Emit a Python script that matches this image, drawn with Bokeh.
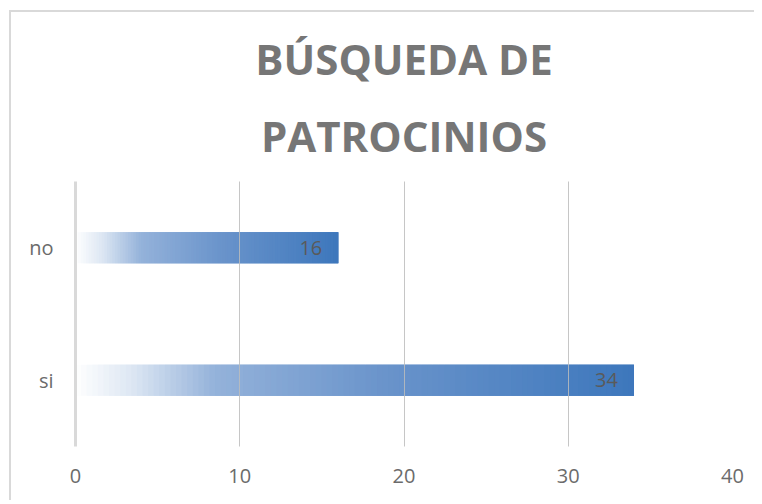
import numpy as np
from bokeh.plotting import figure
from bokeh.core.properties import value
from bokeh.models import FactorRange, Range1d, Title, ColumnDataSource, LabelSet, FixedTicker
from bokeh.embed import file_html
from bokeh.resources import INLINE

# ---- data ----
categories = ["si", "no"]
values = [34, 16]
x_ticks = [0, 10, 20, 30, 40]
title_lines = ["BÚSQUEDA DE", "PATROCINIOS"]

# ---- style ----
FONT = "Open Sans"
GRAD_STOPS = [(0.0, "#ffffff"), (0.1, "#dde7f3"), (0.25, "#94b2da"),
              (0.55, "#6a94cb"), (1.0, "#3d77bc")]
N_SLICES = 100


def hex2rgb(h):
    h = h.lstrip("#")
    return np.array([int(h[i:i + 2], 16) for i in (0, 2, 4)], dtype=float)


def grad_color(t):
    for (t0, c0), (t1, c1) in zip(GRAD_STOPS[:-1], GRAD_STOPS[1:]):
        if t <= t1:
            f = (t - t0) / (t1 - t0) if t1 > t0 else 0
            c = hex2rgb(c0) * (1 - f) + hex2rgb(c1) * f
            return "#%02x%02x%02x" % tuple(int(round(v)) for v in c)
    return GRAD_STOPS[-1][1]


p = figure(width=745, height=490, title=title_lines[0],
           y_range=FactorRange(factors=categories, range_padding=0),
           x_range=Range1d(0, 40),
           output_backend="svg", toolbar_location=None,
           min_border_left=64, min_border_right=24,
           min_border_top=169, min_border_bottom=56)
p.styles = {"margin-left": "9px", "margin-top": "10px",
            "border-top": "2px solid #d9d9d9", "border-left": "2px solid #d9d9d9"}
p.outline_line_color = None
p.background_fill_color = "white"
p.border_fill_color = "white"

# two-line title: second line nearest the frame, default title outermost
p.add_layout(Title(text=title_lines[1], align="center", text_font=FONT,
                   text_font_size="42px", text_font_style="bold",
                   text_color="#767676", standoff=36), "above")
p.title.align = "center"
p.title.text_font = FONT
p.title.text_font_size = "42px"
p.title.text_font_style = "bold"
p.title.text_color = "#767676"
p.title.standoff = 0

# gradient bars built from data values
ys, lefts, rights, colors = [], [], [], []
for cat, v in zip(categories, values):
    for i in range(N_SLICES):
        t = (i + 0.5) / N_SLICES
        ys.append(cat)
        lefts.append(v * i / N_SLICES)
        rights.append(min(v, v * (i + 3) / N_SLICES))
        colors.append(grad_color(t))
src = ColumnDataSource(dict(y=ys, left=lefts, right=rights, color=colors))
p.hbar(y="y", left="left", right="right", height=0.234, fill_color="color",
       line_color=None, source=src)

# grid
p.ygrid.grid_line_color = None
p.xgrid.ticker = FixedTicker(ticks=x_ticks)
p.xgrid.grid_line_color = "#bcbcbc"
p.xgrid.grid_line_alpha = 0.85
p.xgrid.grid_line_width = 1
p.xgrid.level = "overlay"

# axes
p.xaxis.ticker = FixedTicker(ticks=x_ticks)
p.xaxis.axis_line_color = None
p.xaxis.major_tick_line_color = None
p.xaxis.minor_tick_line_color = None
p.xaxis.major_label_text_font = FONT
p.xaxis.major_label_text_font_size = "20px"
p.xaxis.major_label_text_color = "#6b6b6b"
p.xaxis.major_label_standoff = 16

p.yaxis.axis_line_color = "#d9d9d9"
p.yaxis.axis_line_width = 3
p.yaxis.major_tick_line_color = None
p.yaxis.minor_tick_line_color = None
p.yaxis.major_label_text_font = FONT
p.yaxis.major_label_text_font_size = "20px"
p.yaxis.major_label_text_color = "#6b6b6b"
p.yaxis.major_label_standoff = 16

# data labels
lsrc = ColumnDataSource(dict(x=values, y=categories, t=[str(v) for v in values]))
p.add_layout(LabelSet(x="x", y="y", text="t", source=lsrc, x_offset=-16,
                      text_align="right", text_baseline="middle",
                      text_font=value(FONT), text_font_size="20px",
                      text_color="#5a5a5a"))

open("out.html", "w").write(file_html(p, INLINE))
